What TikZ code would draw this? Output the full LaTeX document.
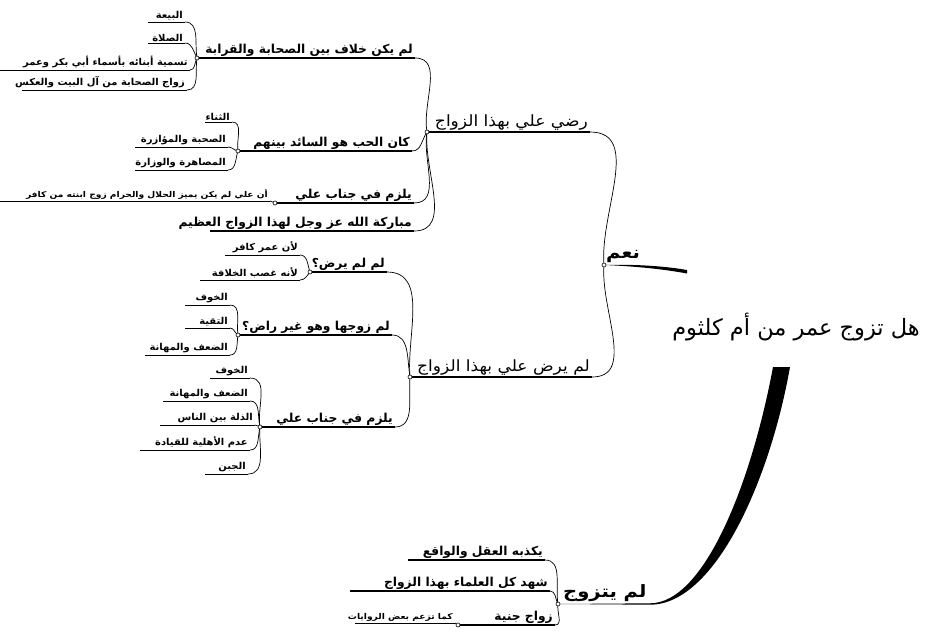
\documentclass[tikz,border=0pt]{standalone}
\usepackage{fontspec}
\newfontfamily\fA[Script=Arabic]{DejaVu Sans}
\newfontfamily\fB[Script=Arabic,FakeStretch=1.1]{DejaVu Sans}
\newfontfamily\fC[Script=Arabic,FakeStretch=1.15]{DejaVu Sans}
\newfontfamily\fE[Script=Arabic,FakeStretch=1.05]{DejaVu Sans}
\newfontfamily\fF[Script=Arabic,FakeStretch=1.14]{DejaVu Sans}
\TeXXeTstate=1
\begin{document}
\begin{tikzpicture}[x=1pt,y=-1pt,
  t0/.style={font=\fA\fontsize{22.5}{26}\selectfont, inner sep=0pt},
  t1/.style={font=\fB\fontsize{15.5}{18}\selectfont, inner xsep=2pt, inner ysep=1.5pt},
  tb/.style={font=\fC\bfseries\fontsize{17}{20}\selectfont, inner xsep=2pt, inner ysep=1.5pt},
  t2/.style={font=\fA\bfseries\fontsize{12.3}{15}\selectfont, inner xsep=2pt, inner ysep=1.5pt},
  t3/.style={font=\fE\bfseries\fontsize{9.5}{11}\selectfont, inner xsep=2pt, inner ysep=1.5pt},
  t4/.style={font=\fF\bfseries\fontsize{8}{10}\selectfont, inner xsep=2pt, inner ysep=1.5pt},
  t1u/.style={line width=1.3pt},
  t2u/.style={line width=1.1pt},
  t3u/.style={line width=0.9pt},
  t4u/.style={line width=0.9pt},
  conn/.style={line width=0.7pt},
  jn/.style={circle, draw, fill=white, inner sep=0pt, minimum size=4pt, line width=0.6pt}]
\useasboundingbox (0,0) rectangle (929,632);
\newcommand\topic[6]{%
  \coordinate (#1-l) at (#2,#4);
  \node[#5, anchor=south east] (#1) at (#3,#4) {\beginR #6\endR};
  \draw[#5u] (#1-l) -- (#1.south east);}
\newcommand\link[3]{\draw[conn] (#1-l) to[out=#3,in=0] (#2.south east);}
\newcommand\junc[1]{\node[jn] (#1-j) at (#1-l) {};}

% root
\node[t0] (root) at (796,327) {\beginR هل تزوج عمر من أم كلثوم\endR};
\coordinate (root-w) at (687,270);
\coordinate (root-s1) at (773,367);
\coordinate (root-s2) at (790,367);

% yes branch
\coordinate (nam-l) at (604,265);
\node[tb, anchor=south west] (nam) at (604,264) {\beginR نعم\endR};
\fill (nam-l) .. controls (630,264.3) and (660,265.3) .. (root-w) -- (687,273.5)
  .. controls (660,268.5) and (630,266) .. (nam-l) -- cycle;

% no branch
\coordinate (lam-l) at (558,604);
\node[tb, anchor=south west] (lam) at (561,603) {\beginR لم يتزوج\endR};
\fill (lam-l) -- (650,603.3) .. controls (705,603.3) and (752,480) .. (root-s1)
  -- (root-s2) .. controls (770,480) and (715,604.7) .. (650,604.7) -- (lam-l) -- cycle;

% level 1
\topic{rada}{427}{590}{132}{t1}{رضي علي بهذا الزواج}
\topic{lamyarda}{410}{592}{377}{t1}{لم يرض علي بهذا الزواج}

% under rada
\topic{khilaf}{197}{415}{58}{t2}{لم يكن خلاف بين الصحابة والقرابة}
\topic{hubb}{238}{412}{151}{t2}{كان الحب هو السائد بينهم}
\topic{yalzamA}{275}{414}{203}{t2}{يلزم في جناب علي}
\topic{mubaraka}{210}{414}{231}{t2}{مباركة الله عز وجل لهذا الزواج العظيم}

\topic{bay}{148}{185}{22}{t3}{البيعة}
\topic{salat}{148}{185}{43}{t3}{الصلاة}
\topic{tasmiya}{0}{190}{70}{t3}{تسمية أبنائه بأسماء أبي بكر وعمر}
\topic{zawaj}{22}{187}{90}{t3}{زواج الصحابة من آل البيت والعكس}

\topic{thana}{205}{232}{122}{t3}{الثناء}
\topic{suhba}{135}{228}{147}{t3}{الصحبة والمؤازرة}
\topic{musahara}{135}{228}{170}{t3}{المصاهرة والوزارة}

\topic{anna}{0}{270}{201}{t4}{أن علي لم يكن يميز الحلال والحرام زوج ابنته من كافر}

% under lamyarda
\topic{limalam}{310}{387}{272}{t2}{لم لم يرض؟}
\topic{limzawwaj}{238}{392}{335}{t2}{لم زوجها وهو غير راض؟}
\topic{yalzamB}{260}{395}{427}{t2}{يلزم في جناب علي}

\topic{liann}{225}{300}{255}{t3}{لأن عمر كافر}
\topic{liannahu}{200}{300}{280}{t3}{لأنه غصب الخلافة}

\topic{khawfA}{185}{230}{305}{t3}{الخوف}
\topic{taqiyya}{185}{230}{328}{t3}{التقية}
\topic{dafA}{145}{230}{355}{t3}{الضعف والمهانة}

\topic{khawfB}{210}{250}{378}{t3}{الخوف}
\topic{dafB}{163}{250}{401}{t3}{الضعف والمهانة}
\topic{dhilla}{160}{255}{425}{t3}{الذلة بين الناس}
\topic{adam}{140}{250}{450}{t3}{عدم الأهلية للقيادة}
\topic{jubn}{205}{248}{474}{t3}{الجبن}

% under lam
\topic{yukadh}{408}{545}{560}{t2}{يكذبه العقل والواقع}
\topic{shahid}{350}{550}{591}{t2}{شهد كل العلماء بهذا الزواج}
\topic{zawajB}{458}{555}{625}{t2}{زواج جنية}
\topic{kama}{355}{455}{623}{t4}{كما تزعم بعض الروايات}

% connectors
\link{nam}{rada}{95}
\link{nam}{lamyarda}{265}
\link{rada}{khilaf}{100}
\link{rada}{hubb}{235}
\link{rada}{yalzamA}{260}
\link{rada}{mubaraka}{265}
\link{khilaf}{bay}{100}
\link{khilaf}{salat}{120}
\link{khilaf}{tasmiya}{240}
\link{khilaf}{zawaj}{260}
\link{hubb}{thana}{100}
\link{hubb}{suhba}{170}
\link{hubb}{musahara}{250}
\link{yalzamA}{anna}{180}
\link{lamyarda}{limalam}{95}
\link{lamyarda}{limzawwaj}{100}
\link{lamyarda}{yalzamB}{265}
\link{limalam}{liann}{110}
\link{limalam}{liannahu}{230}
\link{limzawwaj}{khawfA}{100}
\link{limzawwaj}{taqiyya}{150}
\link{limzawwaj}{dafA}{260}
\link{yalzamB}{khawfB}{100}
\link{yalzamB}{dafB}{105}
\link{yalzamB}{dhilla}{170}
\link{yalzamB}{adam}{255}
\link{yalzamB}{jubn}{265}
\link{lam}{yukadh}{100}
\link{lam}{shahid}{120}
\link{lam}{zawajB}{260}
\link{zawajB}{kama}{180}

% junctions
\foreach \j in {nam,lam,rada,lamyarda,khilaf,hubb,yalzamA,limalam,limzawwaj,yalzamB,zawajB}{\junc{\j}}
\end{tikzpicture}
\end{document}
